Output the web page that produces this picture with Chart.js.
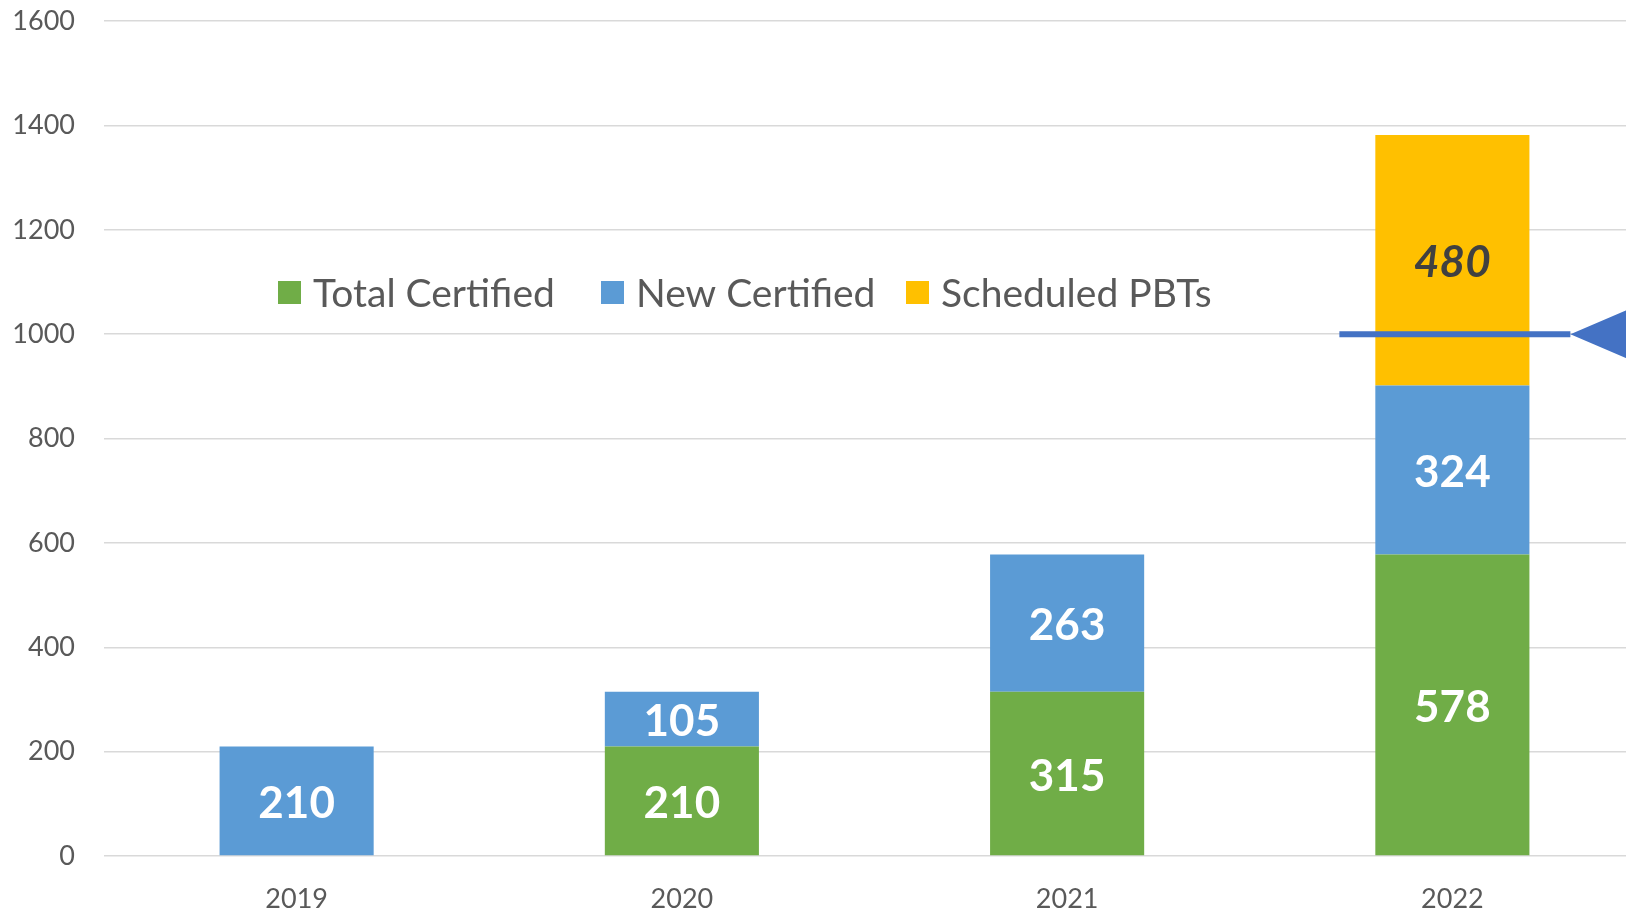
<!DOCTYPE html>
<html>
<head>
<meta charset="utf-8">
<script src="https://cdn.jsdelivr.net/npm/chart.js@4/dist/chart.umd.min.js"></script>
<style>
html,body{margin:0;padding:0;overflow:hidden;background:#fff;width:1626px;height:910px;}
canvas{display:block;margin-top:-24px;}
</style>
</head>
<body>
<canvas id="c" width="1660" height="936" style="width:1660px;height:936px"></canvas>
<script>
const categories = ["2019", "2020", "2021", "2022"];
const totalCertified = [null, 210, 315, 578];
const newCertified = [210, 105, 263, 324];
const scheduledPBTs = [null, null, null, 480];
const seriesNames = ["Total Certified", "New Certified", "Scheduled PBTs"];
const seriesColors = ["#70AD47", "#5B9BD5", "#FFC000"];
const yTicks = [0, 200, 400, 600, 800, 1000, 1200, 1400, 1600];
const arrowValue = 1000;

const FONT = "Lato, 'Open Sans', sans-serif";
const OFFSET = 24;

const labelPlugin = {
  id: 'barLabels',
  afterDatasetsDraw(chart) {
    const ctx = chart.ctx;
    chart.data.datasets.forEach((ds, di) => {
      const meta = chart.getDatasetMeta(di);
      meta.data.forEach((bar, i) => {
        const v = ds.data[i];
        if (v == null) return;
        const p = bar.getProps(['x', 'y', 'base'], true);
        const cy = (p.y + p.base) / 2 + 3;
        ctx.save();
        ctx.textAlign = 'center';
        ctx.textBaseline = 'middle';
        if (di === 2) {
          ctx.font = "italic bold 44px " + FONT;
          ctx.fillStyle = '#404040';
        } else {
          ctx.font = "bold 44px " + FONT;
          ctx.fillStyle = '#FFFFFF';
        }
        ctx.fillText(String(v), p.x, cy);
        ctx.restore();
      });
    });
  }
};

const legendPlugin = {
  id: 'customLegend',
  afterDraw(chart) {
    const ctx = chart.ctx;
    const starts = [278, 601, 906];
    const cy = 293 + OFFSET;
    ctx.save();
    ctx.font = "39px " + FONT;
    ctx.textBaseline = 'middle';
    ctx.textAlign = 'left';
    seriesNames.forEach((n, i) => {
      ctx.fillStyle = seriesColors[i];
      ctx.fillRect(starts[i], cy - 12, 23, 23);
      ctx.fillStyle = '#595959';
      ctx.fillText(n, starts[i] + 35, cy + 1);
    });
    ctx.restore();
  }
};

const arrowPlugin = {
  id: 'arrow',
  afterDraw(chart) {
    const ctx = chart.ctx;
    const y = chart.scales.y.getPixelForValue(arrowValue);
    const xc = chart.scales.x.getPixelForValue(3);
    const x0 = xc - 113, x1 = xc + 118;
    ctx.save();
    ctx.fillStyle = '#4472C4';
    ctx.fillRect(x0, y - 3, x1 - x0, 6);
    ctx.beginPath();
    ctx.moveTo(x1, y);
    ctx.lineTo(x1 + 56, y - 24);
    ctx.lineTo(x1 + 56, y - 10);
    ctx.lineTo(x1 + 120, y - 10);
    ctx.lineTo(x1 + 120, y + 10);
    ctx.lineTo(x1 + 56, y + 10);
    ctx.lineTo(x1 + 56, y + 24);
    ctx.closePath();
    ctx.fill();
    ctx.restore();
  }
};

new Chart(document.getElementById('c'), {
  type: 'bar',
  data: {
    labels: categories,
    datasets: [
      { label: seriesNames[0], data: totalCertified, backgroundColor: seriesColors[0] },
      { label: seriesNames[1], data: newCertified, backgroundColor: seriesColors[1] },
      { label: seriesNames[2], data: scheduledPBTs, backgroundColor: seriesColors[2] }
    ]
  },
  options: {
    responsive: false,
    animation: false,
    devicePixelRatio: 1,
    layout: { padding: { top: 0, right: 15, left: 0, bottom: 0 } },
    datasets: { bar: { barPercentage: 0.4, categoryPercentage: 1.0, borderWidth: 0 } },
    plugins: { legend: { display: false }, tooltip: { enabled: false } },
    scales: {
      x: {
        stacked: true,
        grid: { display: false, drawTicks: false },
        border: { display: false },
        ticks: { color: '#595959', font: { family: FONT, size: 27 }, padding: 27 },
        afterFit(s) { s.height = 56; }
      },
      y: {
        stacked: true,
        min: 0, max: 1600,
        afterBuildTicks(s) { s.ticks = yTicks.map(v => ({ value: v })); },
        grid: { color: '#D9D9D9', lineWidth: 1.5, drawTicks: false },
        border: { display: false },
        ticks: { color: '#595959', font: { family: FONT, size: 27 }, padding: 29, callback: (v) => String(v) },
        afterFit(s) { s.width = 104; }
      }
    }
  },
  plugins: [labelPlugin, legendPlugin, arrowPlugin]
});
</script>
</body>
</html>
